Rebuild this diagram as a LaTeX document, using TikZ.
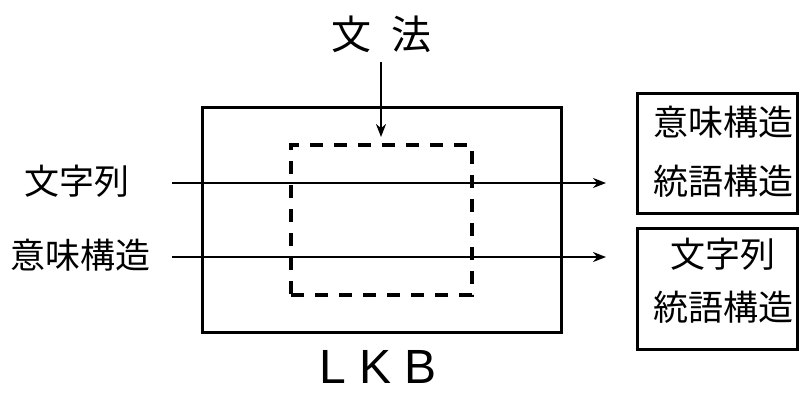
\documentclass[tikz,border=0pt]{standalone}
\usepackage{fontspec}
\setmainfont{Liberation Sans}
\newfontfamily\cjk{Noto Sans CJK JP}
\usetikzlibrary{arrows.meta}
\begin{document}
\begin{tikzpicture}[x=1pt,y=-1pt,
  jtext/.style={font=\cjk\fontsize{35}{40}\selectfont, inner sep=0pt, anchor=center},
  solidbox/.style={draw=black, line width=3pt},
  dashbox/.style={draw=black, line width=4pt, dash pattern=on 13pt off 11pt},
  arr/.style={draw=black, line width=2.1pt, -{Stealth[length=13pt,width=10pt]}},
]
\useasboundingbox (0,0) rectangle (799,392);
% boxes
\node[solidbox, minimum width=359pt, minimum height=225pt, inner sep=0pt] (lkbbox) at (381.5,219.5) {};
\node[dashbox, minimum width=181pt, minimum height=150pt, inner sep=0pt] (gbox) at (381.5,220) {};
\node[solidbox, minimum width=160pt, minimum height=120pt, inner sep=0pt] (out1) at (717.5,153) {};
\node[solidbox, minimum width=160pt, minimum height=121pt, inner sep=0pt] (out2) at (717.5,288.5) {};
% texts
\node[jtext, font=\cjk\fontsize{40}{44}\selectfont] (bunpo) at (381,34) {文\hspace{0.5em}法};
\node[jtext] (in1) at (77,181) {文字列};
\node[jtext] (in2) at (80,255) {意味構造};
\node[jtext] (o1a) at (723,122) {意味構造};
\node[jtext] (o1b) at (723,181) {統語構造};
\node[jtext] (o2a) at (723,254) {文字列};
\node[jtext] (o2b) at (723,307) {統語構造};
\node[font=\fontsize{48}{50}\selectfont, inner sep=0pt, anchor=base] (lkb) at (378,383) {L K B};
% connector ends
\coordinate (a1s) at (172,183);
\coordinate (a1e) at (606,183);
\coordinate (a2s) at (172,257);
\coordinate (a2e) at (606,257);
\coordinate (gs) at (381,62);
\coordinate (ge) at (381,137);
\draw[arr] (a1s) -- (a1e);
\draw[arr] (a2s) -- (a2e);
\draw[arr] (gs) -- (ge);
\end{tikzpicture}
\end{document}
